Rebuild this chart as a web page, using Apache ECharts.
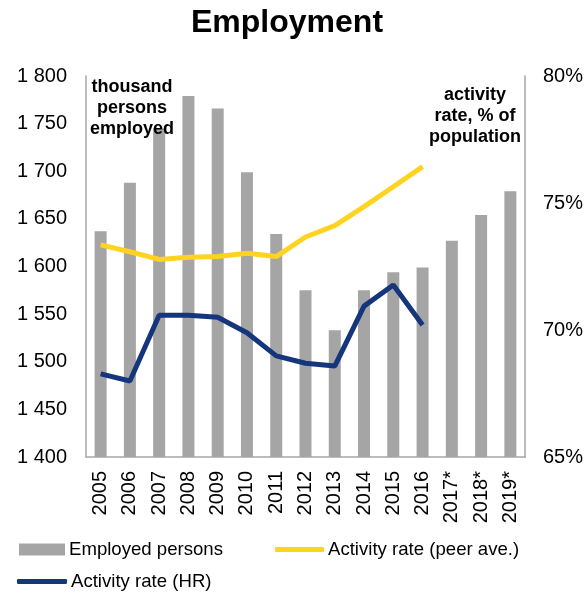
<!DOCTYPE html>
<html><head><meta charset="utf-8">
<script src="https://cdn.jsdelivr.net/npm/echarts@6/dist/echarts.min.js"></script>
<style>html,body{margin:0;padding:0;background:#fff}#c{width:588px;height:594px}</style>
</head><body><div id="c"></div>
<script>
const categories = ['2005','2006','2007','2008','2009','2010','2011','2012','2013','2014','2015','2016','2017*','2018*','2019*'];
const employed = [1637,1688,1745,1779,1766,1699,1634,1575,1533,1575,1594,1599,1627,1654,1679];
const peerRate = [73.35,73.08,72.78,72.86,72.89,73.02,72.89,73.66,74.11,74.86,75.64,76.43,null,null,null];
const hrRate = [68.27,67.99,70.58,70.58,70.5,69.89,68.98,68.69,68.58,70.94,71.77,70.2,null,null,null];
const leftTicks = {min:1400,max:1800,interval:50};
const rightTicks = {min:65,max:80,interval:5};

const font = 'Liberation Sans, Arial, sans-serif';
const legendText = {fontSize:18.6,color:'#000',fontFamily:font,padding:[0,0,0,-1]};
const chart = echarts.init(document.getElementById('c'));
chart.setOption({
  animation:false,
  textStyle:{fontFamily:font},
  title:{text:'Employment',left:186,top:2,textStyle:{fontSize:32,fontWeight:'bold',color:'#000',fontFamily:font}},
  grid:{left:86,right:63,top:76,bottom:137},
  legend:[
    {left:19,top:540,padding:0,itemWidth:46,itemHeight:12,textStyle:legendText,
     data:[{name:'Employed persons',icon:'rect'}]},
    {left:275,top:540,padding:0,itemWidth:49,itemHeight:5,textStyle:legendText,
     data:[{name:'Activity rate (peer ave.)',icon:'roundRect'}]},
    {left:17,top:572,padding:0,itemWidth:50,itemHeight:5,textStyle:legendText,
     data:[{name:'Activity rate (HR)',icon:'roundRect'}]}
  ],
  xAxis:{type:'category',data:categories,
    axisLine:{lineStyle:{color:'#a6a6a6',width:1.5}},axisTick:{show:false},
    axisLabel:{rotate:90,fontSize:20,color:'#000',margin:14,interval:0,fontFamily:font}},
  yAxis:[
    {type:'value',min:leftTicks.min,max:leftTicks.max,interval:leftTicks.interval,
     splitLine:{show:false},axisLine:{show:true,lineStyle:{color:'#a6a6a6',width:1.5}},axisTick:{show:false},
     axisLabel:{fontSize:20,color:'#000',margin:19,fontFamily:font,formatter:v=>String(v).replace(/^(\d)(\d{3})$/,'$1 $2')}},
    {type:'value',min:rightTicks.min,max:rightTicks.max,interval:rightTicks.interval,
     splitLine:{show:false},axisLine:{show:true,lineStyle:{color:'#a6a6a6',width:1.5}},axisTick:{show:false},
     axisLabel:{fontSize:20,color:'#000',margin:18,fontFamily:font,formatter:v=>v+'%'}}
  ],
  series:[
    {name:'Employed persons',type:'bar',data:employed,barWidth:12,itemStyle:{color:'#a5a5a5'},z:1},
    {name:'Activity rate (peer ave.)',type:'line',yAxisIndex:1,data:peerRate,symbol:'none',
     lineStyle:{color:'#ffd320',width:5},itemStyle:{color:'#ffd320'},z:3},
    {name:'Activity rate (HR)',type:'line',yAxisIndex:1,data:hrRate,symbol:'none',
     lineStyle:{color:'#15357d',width:5},itemStyle:{color:'#15357d'},z:4}
  ],
  graphic:[
    {type:'text',x:132,y:77,z:10,style:{text:'thousand\npersons\nemployed',font:'bold 18px '+font,fill:'#000',align:'center',lineHeight:21}},
    {type:'text',x:475,y:85,z:10,style:{text:'activity\nrate, % of\npopulation',font:'bold 18px '+font,fill:'#000',align:'center',lineHeight:21}}
  ]
});
</script></body></html>
